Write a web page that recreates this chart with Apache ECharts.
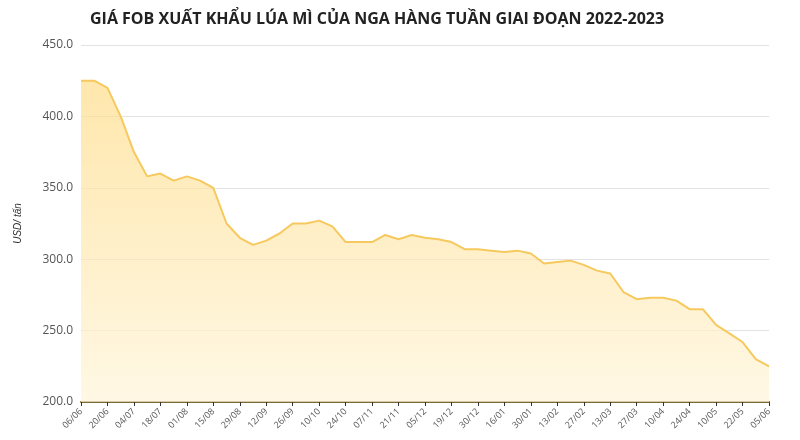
<!DOCTYPE html><html><head><meta charset="utf-8"><script src="https://cdn.jsdelivr.net/npm/echarts@6/dist/echarts.min.js"></script></head><body style="margin:0"><div id="c" style="width:800px;height:440px"></div><script>
const categories=['06/06','13/06','20/06','27/06','04/07','11/07','18/07','25/07','01/08','08/08','15/08','22/08','29/08','05/09','12/09','19/09','26/09','03/10','10/10','17/10','24/10','31/10','07/11','14/11','21/11','28/11','05/12','12/12','19/12','26/12','30/12','09/01','16/01','23/01','30/01','06/02','13/02','20/02','27/02','06/03','13/03','20/03','27/03','03/04','10/04','17/04','24/04','03/05','10/05','15/05','22/05','29/05','05/06'];
const prices=[425,425,420,400,375,358,360,355,358,355,350,325,315,310,313,318,325,325,327,323,312,312,312,317,314,317,315,314,312,307,307,306,305,306,304,297,298,299,296,292,290,277,272,273,273,271,265,265,254,248,242,230,225];
const yTicks={min:200,max:450,interval:50};
const ch=echarts.init(document.getElementById('c'));
ch.setOption({
title:{text:'GIÁ FOB XUẤT KHẨU LÚA MÌ CỦA NGA HÀNG TUẦN GIAI ĐOẠN 2022-2023',left:85,top:6,textStyle:{fontFamily:'Open Sans',fontWeight:'bold',fontSize:16,color:'#222'}},
grid:{left:81,right:31,top:45,bottom:38},
xAxis:{type:'category',data:categories,boundaryGap:false,
 axisLine:{lineStyle:{color:'#7a6a35',width:2}},axisTick:{interval:1,length:4,lineStyle:{color:'#333'}},
 axisLabel:{interval:1,rotate:45,fontSize:9,color:'#555',fontFamily:'Open Sans',margin:8}},
yAxis:{type:'value',...yTicks,name:'USD/ tấn',nameLocation:'middle',nameGap:58,nameTextStyle:{fontStyle:'italic',fontSize:10,color:'#333'},
 axisLabel:{formatter:v=>v.toFixed(1),fontSize:12,color:'#555',fontFamily:'Open Sans'},
 axisLine:{show:false},axisTick:{show:false},splitLine:{lineStyle:{color:'#e3e3e3'}}},
series:[{type:'line',data:prices,symbol:'none',lineStyle:{color:'#f6c95e',width:2},
 areaStyle:{color:new echarts.graphic.LinearGradient(0,0,0,1,[{offset:0,color:'#ffdc88'},{offset:1,color:'#fff4d8'}])}}]
});
</script></body></html>
